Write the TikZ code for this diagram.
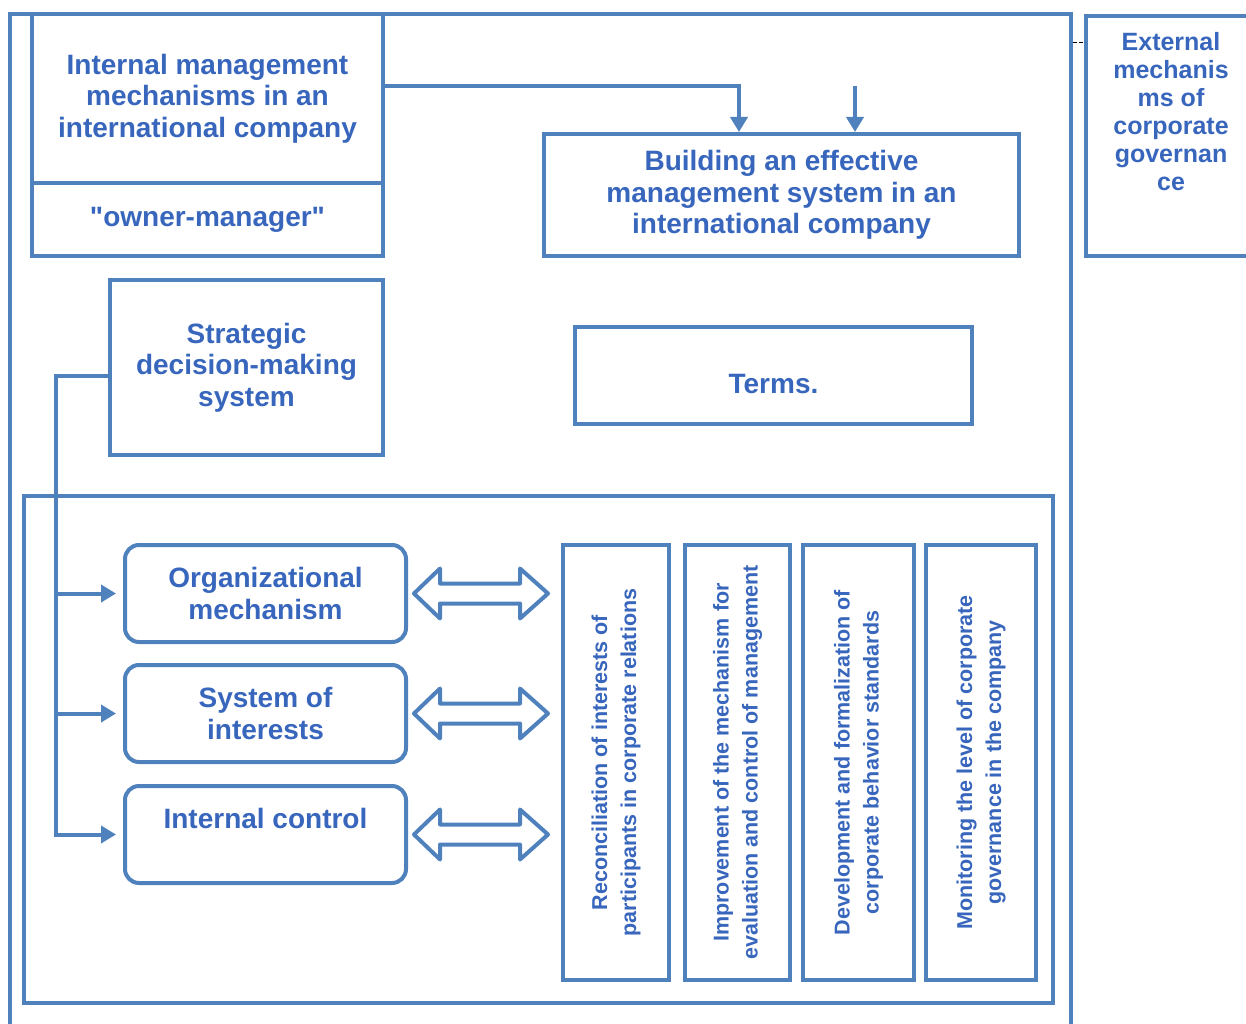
\documentclass[tikz,border=0pt]{standalone}
\usepackage{fontspec}
\setmainfont{Liberation Sans}[Ligatures=TeXOff]
\usetikzlibrary{arrows.meta,calc}
\definecolor{bd}{RGB}{79,129,189}
\definecolor{tx}{RGB}{55,102,188}
\begin{document}
\begin{tikzpicture}[x=1pt,y=-1pt,
  ln/.style={draw=bd,line width=4pt},
  arr/.style={ln,-{Triangle[length=15pt,width=17pt]}},
  box/.style={draw=bd,line width=4pt,inner sep=0pt,align=center,text=tx,
    font=\bfseries\fontsize{28}{31.5}\selectfont},
  btxt/.style={align=center,text=tx,inner sep=0pt,
    font=\bfseries\fontsize{28}{31.5}\selectfont},
  rbox/.style={box,rounded corners=14pt},
  vbox/.style={draw=bd,line width=4pt,inner sep=0pt},
  vtxt/.style={rotate=90,align=center,text=tx,inner sep=0pt,
    font=\bfseries\fontsize{21.5}{29}\selectfont},
  harrow/.style={draw=bd,line width=4pt,line join=round}]
\useasboundingbox (0,0) rectangle (1246,1024);
% outer frame
\draw[ln] (10,1030) -- (10,14) -- (1071,14) -- (1071,1030);
% top boxes
\node[box,minimum width=351,minimum height=169] (imm) at (207.5,98.5)
  {Internal management\\mechanisms in an\\international company};
\node[box,minimum width=351,minimum height=73] (own) at (207.5,219.5) {"owner-manager"};
\node[box,minimum width=475,minimum height=122] (bld) at (781.5,195)
  {Building an effective\\management system in an\\international company};
\node[vbox,minimum width=170,minimum height=240] (ext) at (1171,136) {};
\node[align=center,text=tx,inner sep=0pt,font=\bfseries\fontsize{25}{28}\selectfont]
  (exttxt) at (1171,112) {External\\mechanis\\ms of\\corporate\\governan\\ce};
\draw[black,line width=1pt,dash pattern=on 4pt off 2pt] (1073,43) -- (1085,43);
% strategic and terms
\node[box,minimum width=273,minimum height=175] (sds) at (246.5,367.5)
  {Strategic\\decision-making\\system};
\node[vbox,minimum width=397,minimum height=97] (trm) at (773.5,375.5) {};
\node[btxt] (trmtxt) at ($(trm.center)+(0,9)$) {Terms.};
% top connectors
\coordinate (j1) at (imm.east |- 0,86);
\draw[arr] (j1) -| (bld.north -| 739,0);
\coordinate (c2) at (855,86);
\draw[arr] (c2) -- (bld.north -| c2);
% inner frame
\node[vbox,minimum width=1029,minimum height=507] (inn) at (538.5,749.5) {};
% rounded boxes
\node[rbox,minimum width=281,minimum height=97] (om) at (265.5,593.5) {Organizational\\mechanism};
\node[rbox,minimum width=281,minimum height=97] (si) at (265.5,713.5) {System of\\interests};
\node[rbox,minimum width=281,minimum height=97] (ic) at (265.5,834.5) {Internal control\\\mbox{}};
% vertical boxes
\node[vbox,minimum width=106,minimum height=435] (v1) at (616,762.5) {};
\node[vbox,minimum width=105,minimum height=435] (v2) at (737.5,762.5) {};
\node[vbox,minimum width=111,minimum height=435] (v3) at (858.5,762.5) {};
\node[vbox,minimum width=110,minimum height=435] (v4) at (981,762.5) {};
\node[vtxt] (t1) at (v1.center) {Reconciliation of interests of\\participants in corporate relations};
\node[vtxt] (t2) at (v2.center) {Improvement of the mechanism for\\evaluation and control of management};
\node[vtxt] (t3) at (v3.center) {Development and formalization of\\corporate behavior standards};
\node[vtxt] (t4) at (v4.center) {Monitoring the level of corporate\\governance in the company};
% left bus
\coordinate (bus) at (56,376);
\draw[arr,shorten >=7pt] (sds.west |- bus) -- (bus) |- (ic.west);
\draw[arr,shorten >=7pt] (bus |- om.west) -- (om.west);
\draw[arr,shorten >=7pt] (bus |- si.west) -- (si.west);
% double arrows
\foreach \n in {om,si,ic}{
  \draw[harrow] ($(\n.east)+(6,0)$) -- ++(26,-25) -- ++(0,15) -- ++(80,0) -- ++(0,-15)
    -- ++(28,25) -- ++(-28,25) -- ++(0,-15) -- ++(-80,0) -- ++(0,15) -- cycle;
}
\end{tikzpicture}
\end{document}
